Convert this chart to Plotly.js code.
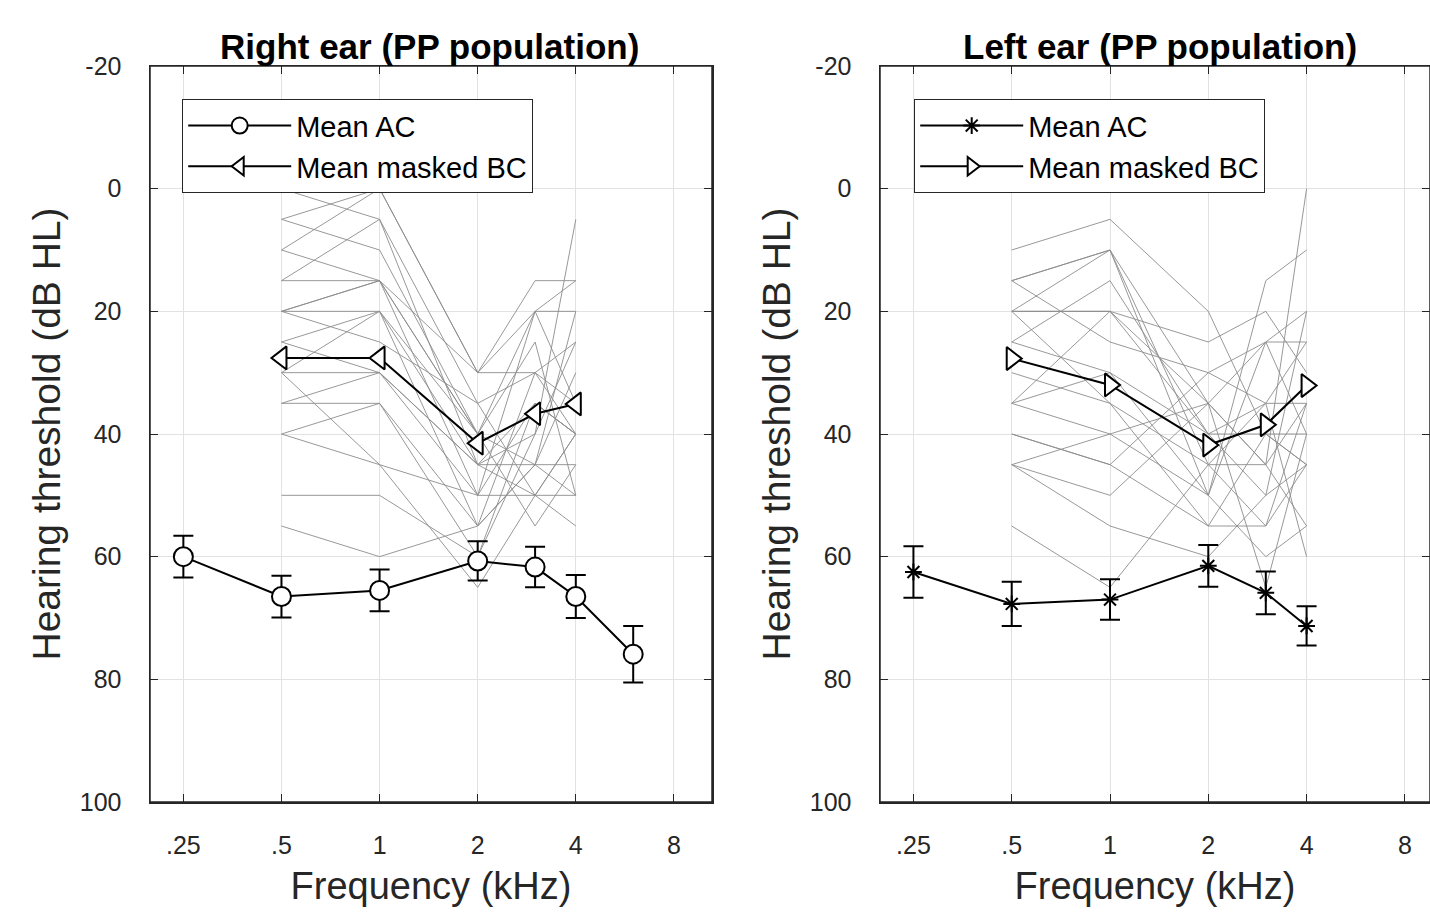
<!DOCTYPE html>
<html><head><meta charset="utf-8">
<script src="https://cdn.plot.ly/plotly-3.0.1.min.js"></script>
<style>html,body{margin:0;padding:0;background:#fff}#chart{width:1430px;height:914px}</style>
</head><body><div id="chart"></div>
<script>
// ---- data ----
const acFreqsRight = [0.25, 0.5, 1, 2, 3, 4, 6];
const acMeanRight  = [60, 66.5, 65.5, 60.7, 61.7, 66.5, 75.9];
const acErrRight   = [3.4, 3.4, 3.4, 3.2, 3.3, 3.5, 4.6];
const bcFreqs      = [0.5, 1, 2, 3, 4];
const bcMeanRight  = [27.6, 27.6, 41.5, 36.7, 35.1];

const acFreqsLeft  = [0.25, 0.5, 1, 2, 3, 4];
const acMeanLeft   = [62.5, 67.7, 67, 61.5, 65.9, 71.3];
const acErrLeft    = [4.2, 3.6, 3.3, 3.4, 3.5, 3.2];
const bcMeanLeft   = [27.7, 32, 41.8, 38.5, 32.1];

// individual masked BC thresholds (dB HL) at .5, 1, 2, 3, 4 kHz
const bcSubjectsRight = [
  [0, 5, 35, 30, 25], [5, 10, 40, 20, 15], [10, 0, 30, 15, 15], [15, 5, 45, 35, 40],
  [15, 15, 40, 45, 20], [20, 15, 50, 20, 35], [20, 20, 45, 40, 25], [20, 25, 35, 50, 40],
  [25, 20, 55, 30, 40], [25, 30, 45, 45, 30], [30, 20, 40, 55, 45], [30, 30, 50, 35, 40],
  [35, 35, 60, 40, 5], [35, 30, 45, 50, 55], [40, 35, 55, 45, 50], [40, 45, 50, 50, 50],
  [50, 50, 60, 35, 40], [55, 60, 55, 45, 45], [5, 0, 30, 30, 35], [30, 45, 65, 50, 40],
  [10, 15, 40, 25, 50], [20, 15, 30, 20, 20]
];
const bcSubjectsLeft = [
  [10, 5, 20, 40, 40], [15, 10, 35, 25, 20], [15, 10, 45, 45, 0], [20, 10, 50, 15, 10],
  [20, 20, 25, 20, 30], [20, 20, 40, 35, 25], [25, 15, 40, 50, 45], [15, 25, 30, 35, 35],
  [30, 35, 45, 55, 45], [35, 20, 35, 45, 35], [35, 30, 50, 25, 40], [35, 40, 35, 45, 55],
  [40, 45, 55, 40, 45], [45, 40, 50, 60, 55], [45, 50, 35, 65, 40], [55, 65, 45, 35, 60],
  [45, 55, 60, 50, 20], [25, 30, 40, 40, 45], [40, 45, 30, 25, 25], [20, 35, 55, 55, 35]
];

const xTickVals = [0.25, 0.5, 1, 2, 4, 8];
const xTickText = ['.25', '.5', '1', '2', '4', '8'];
const yTickVals = [-20, 0, 20, 40, 60, 80, 100];
const yTickText = ['-20', '0', '20', '40', '60', '80', '100'];
const titles = ['Right ear (PP population)', 'Left ear (PP population)'];
const legendNames = ['Mean AC', 'Mean masked BC'];

// ---- traces ----
const FONT = 'Liberation Sans, Arial, sans-serif';
const INK = '#262626';
const traces = [];
function addSubjects(list, xa, ya) {
  list.forEach(s => traces.push({
    x: bcFreqs, y: s, xaxis: xa, yaxis: ya, mode: 'lines', showlegend: false,
    hoverinfo: 'skip', line: {color: '#8c8c8c', width: 0.9}
  }));
}
addSubjects(bcSubjectsRight, 'x', 'y');
addSubjects(bcSubjectsLeft, 'x2', 'y2');

traces.push({
  x: acFreqsRight, y: acMeanRight, xaxis: 'x', yaxis: 'y', name: legendNames[0], legend: 'legend',
  mode: 'lines+markers', line: {color: '#000', width: 2},
  marker: {symbol: 'circle', size: 19, color: '#fff', line: {color: '#000', width: 2}},
  error_y: {type: 'data', array: acErrRight, visible: true, color: '#000', thickness: 2, width: 10}
});
traces.push({
  x: bcFreqs, y: bcMeanRight, xaxis: 'x', yaxis: 'y', name: legendNames[1], legend: 'legend',
  mode: 'lines+markers', line: {color: '#000', width: 2},
  marker: {symbol: 'triangle-left', size: 20, color: '#fff', line: {color: '#000', width: 2}}
});
traces.push({
  x: acFreqsLeft, y: acMeanLeft, xaxis: 'x2', yaxis: 'y2', name: legendNames[0], legend: 'legend2',
  mode: 'lines+markers', line: {color: '#000', width: 2},
  marker: {symbol: 'asterisk-open', size: 14, color: '#000', line: {color: '#000', width: 2}},
  error_y: {type: 'data', array: acErrLeft, visible: true, color: '#000', thickness: 2, width: 10}
});
traces.push({
  x: bcFreqs, y: bcMeanLeft, xaxis: 'x2', yaxis: 'y2', name: legendNames[1], legend: 'legend2',
  mode: 'lines+markers', line: {color: '#000', width: 2},
  marker: {symbol: 'triangle-right', size: 20, color: '#fff', line: {color: '#000', width: 2}}
});

// ---- layout ----
function xAxis(domain, range, anchor) {
  return {
    domain: domain, type: 'log', range: range, anchor: anchor,
    tickmode: 'array', tickvals: xTickVals, ticktext: xTickText,
    ticks: 'inside', ticklen: 8, tickwidth: 1, tickcolor: INK,
    showline: true, linecolor: INK, linewidth: 1.5, mirror: 'ticks',
    showgrid: true, gridcolor: '#e2e2e2', gridwidth: 1, zeroline: false,
    tickfont: {family: FONT, size: 25, color: INK}, ticklabelstandoff: 20,
    title: {text: 'Frequency (kHz)', font: {family: FONT, size: 38, color: INK}, standoff: 15}
  };
}
function yAxis(domain, anchor) {
  return {
    domain: domain, range: [100, -20], anchor: anchor,
    tickmode: 'array', tickvals: yTickVals, ticktext: yTickText,
    ticks: 'inside', ticklen: 8, tickwidth: 1, tickcolor: INK,
    showline: true, linecolor: INK, linewidth: 1.5, mirror: 'ticks',
    showgrid: true, gridcolor: '#e2e2e2', gridwidth: 1, zeroline: false,
    tickfont: {family: FONT, size: 25, color: INK}, ticklabelstandoff: 22,
    title: {text: 'Hearing threshold (dB HL)', font: {family: FONT, size: 39, color: INK}, standoff: 7}
  };
}
const yDom = [1 - 802 / 914, 1 - 66 / 914];
const legendStyle = (x) => ({
  x: x, y: 1 - 99 / 914, xanchor: 'left', yanchor: 'top', xref: 'paper', yref: 'paper',
  bgcolor: '#fff', bordercolor: INK, borderwidth: 1.2,
  font: {family: FONT, size: 29, color: '#000'}, tracegroupgap: 0, itemwidth: 103
});
const boxShape = (xr, yr) => ({
  type: 'rect', xref: xr + ' domain', yref: yr + ' domain', x0: 0, x1: 1, y0: 0, y1: 1,
  line: {color: INK, width: 1.5}, fillcolor: 'rgba(0,0,0,0)', layer: 'above'
});
const layout = {
  width: 1430, height: 914, margin: {l: 0, r: 0, t: 0, b: 0},
  paper_bgcolor: '#fff', plot_bgcolor: '#fff', showlegend: true,
  xaxis: xAxis([150 / 1430, 712 / 1430], [Math.log10(0.1975), Math.log10(10.47)], 'y'),
  yaxis: yAxis(yDom, 'x'),
  xaxis2: xAxis([880 / 1430, 1], [Math.log10(0.1975), Math.log10(9.55)], 'y2'),
  yaxis2: yAxis(yDom, 'x2'),
  legend: legendStyle(182 / 1430),
  legend2: legendStyle(914 / 1430),
  shapes: [boxShape('x', 'y'), boxShape('x2', 'y2')],
  annotations: [
    {text: '<b>' + titles[0] + '</b>', x: 430 / 1430, y: 1 - 46 / 914, xref: 'paper', yref: 'paper',
     xanchor: 'center', yanchor: 'middle', showarrow: false, font: {family: FONT, size: 35, color: '#000'}},
    {text: '<b>' + titles[1] + '</b>', x: 1160 / 1430, y: 1 - 46 / 914, xref: 'paper', yref: 'paper',
     xanchor: 'center', yanchor: 'middle', showarrow: false, font: {family: FONT, size: 35, color: '#000'}}
  ]
};
Plotly.newPlot('chart', traces, layout, {displayModeBar: false, staticPlot: true});
</script>
</body></html>
